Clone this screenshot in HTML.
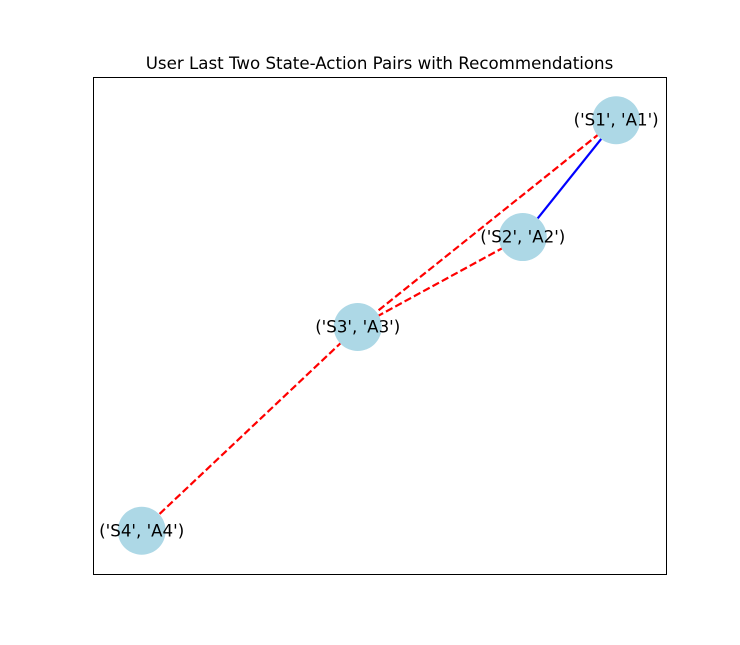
<!DOCTYPE html>
<html><head><meta charset="utf-8"><style>
html,body{margin:0;padding:0;background:#fff;}
svg{display:block;font-family:"DejaVu Sans","Liberation Sans",sans-serif;}
</style></head><body>
<svg id="chart" width="740" height="645" viewBox="0 0 740 645">
<text x="379.5" y="69" text-anchor="middle" font-size="16.67" fill="#000">User Last Two State-Action Pairs with Recommendations</text>
<rect x="93.5" y="77.5" width="573" height="497" fill="none" stroke="#000" stroke-width="1"/>
<g id="edges"></g>
<g id="nodes"></g>
</svg>
<script>
const nodeNames = ["('S1', 'A1')", "('S2', 'A2')", "('S3', 'A3')", "('S4', 'A4')"];
const nodeX = [0.913, 0.750, 0.462, 0.085];
const nodeY = [0.913, 0.678, 0.497, 0.087];
const edgeFrom = [0, 0, 1, 2];
const edgeTo = [1, 2, 2, 3];
const edgeType = ["actual", "recommended", "recommended", "recommended"];

const NS = "http://www.w3.org/2000/svg";
function sx(v){ return 93 + v * 573; }
function sy(v){ return 574 - v * 497; }
const eg = document.getElementById('edges');
const ng = document.getElementById('nodes');
for (let i = 0; i < edgeFrom.length; i++) {
  const a = edgeFrom[i], b = edgeTo[i];
  const l = document.createElementNS(NS, 'line');
  l.setAttribute('x1', sx(nodeX[a])); l.setAttribute('y1', sy(nodeY[a]));
  l.setAttribute('x2', sx(nodeX[b])); l.setAttribute('y2', sy(nodeY[b]));
  l.setAttribute('stroke-width', 2.2);
  if (edgeType[i] === 'actual') { l.setAttribute('stroke', '#0000ff'); }
  else { l.setAttribute('stroke', '#ff0000'); l.setAttribute('stroke-dasharray', '7.4 3.2'); }
  
  
  eg.appendChild(l);
}
for (let i = 0; i < nodeNames.length; i++) {
  const c = document.createElementNS(NS, 'circle');
  c.setAttribute('cx', sx(nodeX[i])); c.setAttribute('cy', sy(nodeY[i]));
  c.setAttribute('r', 24); c.setAttribute('fill', '#add8e6');
  
  
  ng.appendChild(c);
}
for (let i = 0; i < nodeNames.length; i++) {
  const t = document.createElementNS(NS, 'text');
  t.setAttribute('x', sx(nodeX[i])); t.setAttribute('y', sy(nodeY[i]) + 5.5);
  t.setAttribute('text-anchor', 'middle'); t.setAttribute('font-size', '16.67');
  t.textContent = nodeNames[i];
  
  
  ng.appendChild(t);
}
</script>
</body></html>
